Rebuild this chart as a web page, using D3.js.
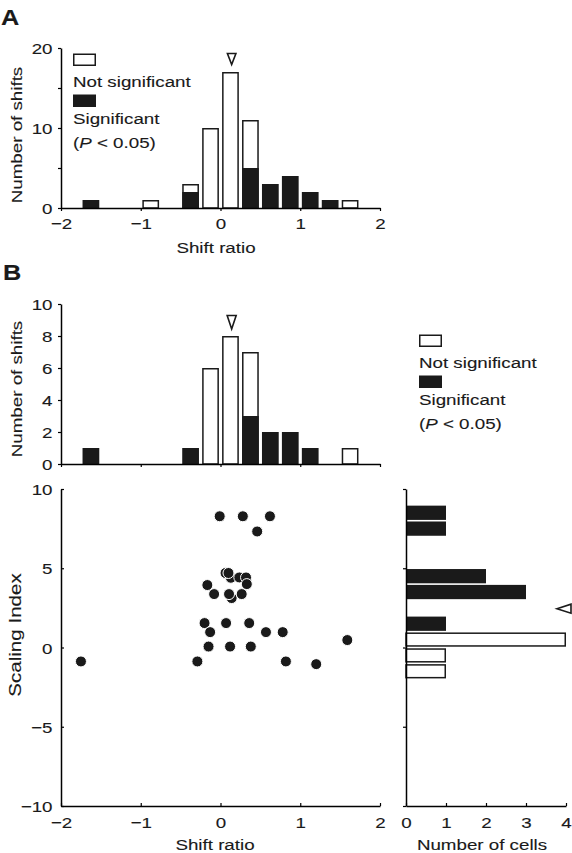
<!DOCTYPE html>
<html><head><meta charset="utf-8">
<script src="https://cdn.jsdelivr.net/npm/d3@7"></script>
<style>
body{margin:0;background:#fff}
svg{display:block}
text{font-family:"Liberation Sans",Arial,Helvetica,sans-serif;fill:#1a1a1a;stroke:#1a1a1a;stroke-width:0.12px}
</style>
</head><body><svg id="c" width="572" height="853"></svg>
<script>
// ---------- data ----------
const binCenters = [-1.625, -0.875, -0.375, -0.125, 0.125, 0.375, 0.625, 0.875, 1.125, 1.375, 1.625];
// Panel A histogram (shift ratio)
const aNotSig = [0, 1, 1, 10, 17, 6, 0, 0, 0, 0, 1];
const aSig    = [1, 0, 2, 0, 0, 5, 3, 4, 2, 1, 0];
const aMedian = 0.14;
// Panel B top histogram
const bNotSig = [0, 0, 0, 6, 8, 4, 0, 0, 0, 0, 1];
const bSig    = [1, 0, 1, 0, 0, 3, 2, 2, 1, 0, 0];
const bMedian = 0.14;
// Panel B scatter
const shiftRatio   = [-0.01, 0.28, 0.62, 0.46,
  0.14, 0.13, 0.063, 0.10, 0.236, 0.32, 0.33, -0.165, -0.08, 0.107, 0.266,
  -0.20, 0.07, 0.36, -0.13, 0.57, 0.78, -0.15, 0.12, 0.38, -1.75, -0.29, 0.82, 1.20, 1.59];
const scalingIndex = [8.28, 8.28, 8.28, 7.32,
  3.12, 4.40, 4.70, 4.70, 4.42, 4.42, 4.00, 3.94, 3.37, 3.37, 3.37,
  1.54, 1.54, 1.54, 0.97, 0.97, 0.97, 0.06, 0.06, 0.06, -0.88, -0.88, -0.88, -1.05, 0.47];
// Panel B right histogram (scaling index)
const siBinCenters = [8.5, 7.5, 4.5, 3.5, 1.5, 0.5, -0.5, -1.5];
const siSig    = [1, 1, 2, 3, 1, 0, 0, 0];
const siNotSig = [0, 0, 0, 0, 0, 4, 1, 1];
const siMedian = 2.45;
// tick values
const xTicks = [-2, -1, 0, 1, 2];
const aYTicks = [0, 5, 10, 15, 20];
const bYTicks = [0, 2, 4, 6, 8, 10];
const sYTicks = [-10, -5, 0, 5, 10];
const cellTicks = [0, 1, 2, 3, 4];
const legendLabels = ["Not significant", "Significant"];

// ---------- setup ----------
const svg = d3.select("#c");
const BLACK = "#1a1a1a";
const FS = 15.5;      // font size
const SX = 1.21;      // horizontal stretch of the lettering
const binW = 0.25;

const x = d3.scaleLinear().domain([-2, 2]).range([61, 380]);
const yA = d3.scaleLinear().domain([0, 20]).range([208, 48]);
const yB = d3.scaleLinear().domain([0, 10]).range([464, 304]);
const yS = d3.scaleLinear().domain([-10, 10]).range([806, 489]);
const xC = d3.scaleLinear().domain([0, 4]).range([406, 566]);

function stretchText(sel) {
  sel.each(function () {
    const t = d3.select(this);
    const xx = +t.attr("x") || 0, yy = +t.attr("y") || 0;
    t.attr("transform", `translate(${xx},${yy}) scale(${SX},1)`).attr("x", 0).attr("y", 0);
  });
}
function styleAxis(g) {
  g.select(".domain").attr("stroke", "#000").attr("stroke-width", 1.5);
  g.selectAll(".tick line").attr("stroke", "#000").attr("stroke-width", 1.2);
  g.selectAll("text").attr("font-size", FS).attr("fill", BLACK)
    .attr("font-family", '"Liberation Sans",Arial,sans-serif');
}
function leftAxis(yScale, ticks, fmt, xPos, inward) {
  const g = svg.append("g").attr("transform", `translate(${xPos},0)`)
    .call(d3.axisLeft(yScale).tickValues(ticks).tickFormat(fmt)
      .tickSize(inward ? -3 : 3).tickSizeOuter(0));
  styleAxis(g);
  g.selectAll("text").attr("x", -8.5).attr("y", 0).attr("dy", "0.36em");
  stretchText(g.selectAll("text"));
  return g;
}
function bottomAxis(xScale, ticks, fmt, yPos, inward, off) {
  const g = svg.append("g").attr("transform", `translate(0,${yPos})`)
    .call(d3.axisBottom(xScale).tickValues(ticks).tickFormat(fmt)
      .tickSize(inward ? -3 : 3).tickSizeOuter(0));
  styleAxis(g);
  g.selectAll("text").attr("x", 0).attr("y", off).attr("dy", 0);
  stretchText(g.selectAll("text"));
  return g;
}
const minusFmt = d => d3.format("")(d);

function vHist(yScale, notSig, sig) {
  const g = svg.append("g");
  binCenters.forEach((c, i) => {
    const total = notSig[i] + sig[i];
    if (total === 0) return;
    const x0 = x(c - binW * 0.42), x1 = x(c + binW * 0.42);
    if (notSig[i] > 0) {
      g.append("rect")
        .attr("x", x0 + 0.75).attr("width", x1 - x0 - 1.5)
        .attr("y", yScale(total) + 0.75).attr("height", yScale(0) - yScale(total) - 0.75)
        .attr("fill", "#fff").attr("stroke", BLACK).attr("stroke-width", 1.5);
    }
    if (sig[i] > 0) {
      g.append("rect")
        .attr("x", x0).attr("width", x1 - x0)
        .attr("y", yScale(sig[i])).attr("height", yScale(0) - yScale(sig[i]))
        .attr("fill", BLACK);
    }
  });
}
function downTri(cx, yTop, w, h) {
  svg.append("path")
    .attr("d", `M${cx - w / 2},${yTop}L${cx + w / 2},${yTop}L${cx},${yTop + h}Z`)
    .attr("fill", "#fff").attr("stroke", BLACK).attr("stroke-width", 1.6)
    .attr("stroke-linejoin", "miter");
}
function txt(xx, yy, s, size, anchor) {
  return svg.append("text")
    .attr("transform", `translate(${xx},${yy}) scale(${SX},1)`)
    .attr("text-anchor", anchor || "start").attr("font-size", size || FS).text(s);
}
function legend(lx, ly) {
  svg.append("rect").attr("x", lx + 0.75).attr("y", ly + 0.75).attr("width", 21.5).attr("height", 11)
    .attr("fill", "#fff").attr("stroke", BLACK).attr("stroke-width", 1.5);
  txt(lx, ly + 33, legendLabels[0]);
  svg.append("rect").attr("x", lx).attr("y", ly + 41).attr("width", 23).attr("height", 12.5)
    .attr("fill", BLACK);
  txt(lx, ly + 70.5, legendLabels[1]);
  const t = txt(lx, ly + 94, "");
  t.append("tspan").text("(");
  t.append("tspan").attr("font-style", "italic").text("P");
  t.append("tspan").text(" < 0.05)");
}
function yTitle(s, cx, cy, size) {
  svg.append("text").attr("transform", `translate(${cx},${cy}) rotate(-90) scale(${SX},1)`)
    .attr("text-anchor", "middle").attr("font-size", size || FS).text(s);
}
function panelLabel(s, xx, yy) {
  svg.append("text").attr("transform", `translate(${xx},${yy}) scale(1.15,1)`)
    .attr("font-size", 22).attr("font-weight", "bold").text(s);
}

// ---------- Panel A ----------
panelLabel("A", 1, 25);
vHist(yA, aNotSig, aSig);
leftAxis(yA, aYTicks, d => (d % 10 === 0 ? d : ""), 61, false);
bottomAxis(x, xTicks, minusFmt, 208, false, 20.5);
downTri(x(aMedian), 53.5, 8.5, 11);
legend(73, 53.5);
yTitle("Number of shifts", 22, 135);
txt(216, 253, "Shift ratio", FS, "middle");

// ---------- Panel B top ----------
panelLabel("B", 3, 280);
vHist(yB, bNotSig, bSig);
leftAxis(yB, bYTicks, d => d, 61, false);
bottomAxis(x, xTicks, () => "", 464, false, 20);
downTri(x(bMedian), 315.5, 9, 13.5);
legend(419, 334.5);
yTitle("Number of shifts", 22, 389);

// ---------- Panel B scatter ----------
leftAxis(yS, sYTicks, minusFmt, 61, true);
bottomAxis(x, xTicks, minusFmt, 806, true, 22);
svg.append("g").selectAll("circle")
  .data(shiftRatio.map((v, i) => [v, scalingIndex[i]]))
  .join("circle")
  .attr("cx", d => x(d[0])).attr("cy", d => yS(d[1])).attr("r", 5.5)
  .attr("fill", BLACK).attr("stroke", "#fff").attr("stroke-width", 1);
yTitle("Scaling Index", 20.5, 635, 17);
txt(215, 849.5, "Shift ratio", FS, "middle");

// ---------- Panel B right histogram ----------
const rg = svg.append("g");
siBinCenters.forEach((c, i) => {
  const total = siSig[i] + siNotSig[i];
  const y0 = yS(c + 0.45), y1 = yS(c - 0.45);
  if (siNotSig[i] > 0) {
    rg.append("rect").attr("x", xC(0)).attr("width", xC(total) - xC(0) - 0.75)
      .attr("y", y0 + 0.75).attr("height", y1 - y0 - 1.5)
      .attr("fill", "#fff").attr("stroke", BLACK).attr("stroke-width", 1.5);
  }
  if (siSig[i] > 0) {
    rg.append("rect").attr("x", xC(0)).attr("width", xC(siSig[i]) - xC(0))
      .attr("y", y0).attr("height", y1 - y0).attr("fill", BLACK);
  }
});
leftAxis(yS, sYTicks, () => "", 406, false);
bottomAxis(xC, cellTicks, d => d, 806, true, 22);
{
  const ty = yS(siMedian);
  svg.append("path")
    .attr("d", `M557,${ty}L571,${ty - 4.5}L571,${ty + 4.5}Z`)
    .attr("fill", "#fff").attr("stroke", BLACK).attr("stroke-width", 1.6);
}
txt(482, 849.5, "Number of cells", FS, "middle");
</script></body></html>
